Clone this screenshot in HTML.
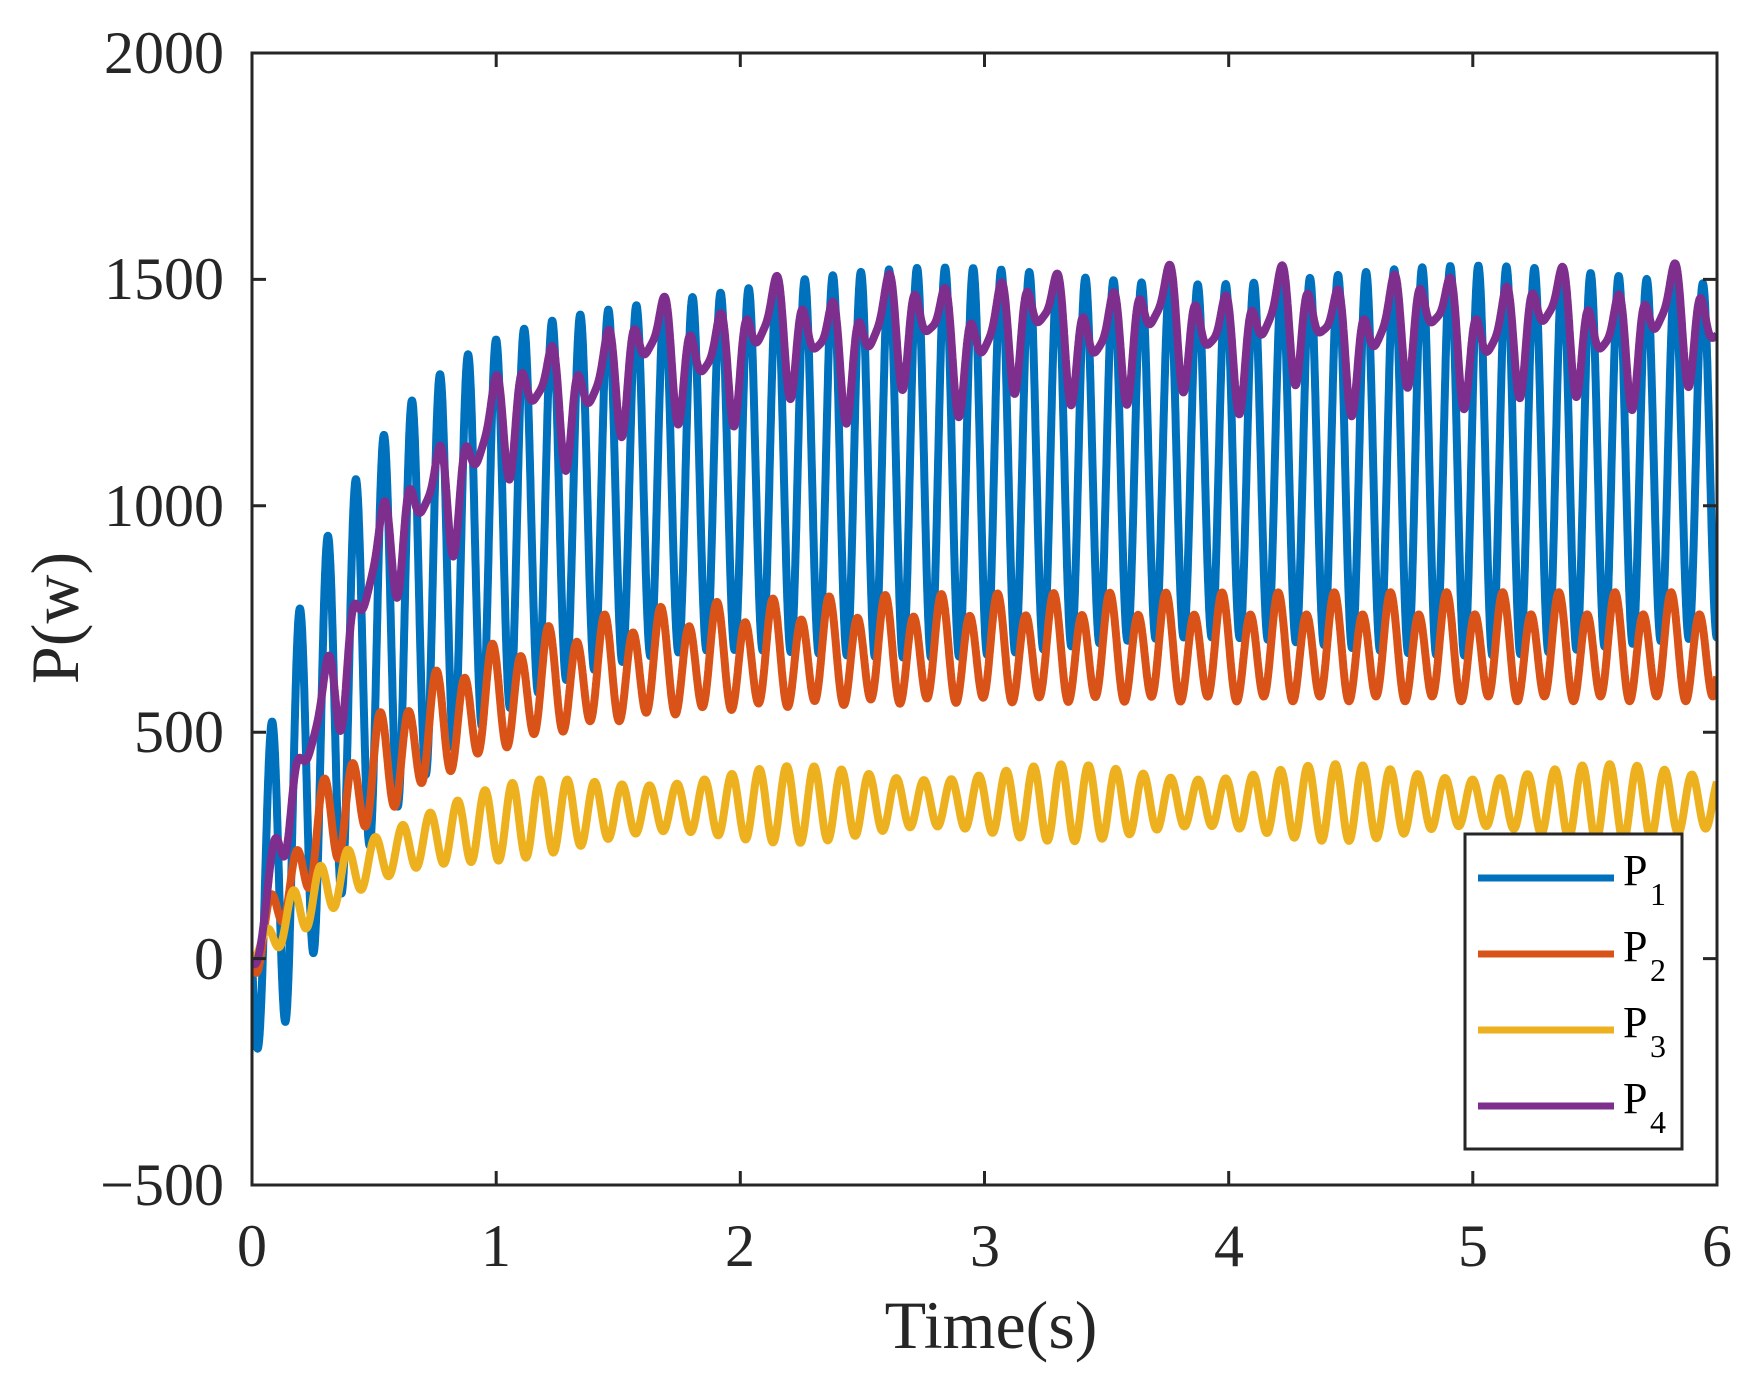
<!DOCTYPE html>
<html><head><meta charset="utf-8"><style>
html,body{margin:0;padding:0;background:#fff;}
svg text{font-family:"Liberation Serif",serif;fill:#262626;}
</style></head><body>
<svg id="s" width="1757" height="1383" viewBox="0 0 1757 1383" xmlns="http://www.w3.org/2000/svg">
<defs><clipPath id="c"><rect x="252" y="53" width="1465" height="1132"/></clipPath></defs>
<rect width="1757" height="1383" fill="#fff"/>
<g id="series" clip-path="url(#c)" fill="none" stroke-width="8" stroke-linejoin="round"></g>
<g stroke="#262626" stroke-width="3" fill="none">
<rect x="252" y="53" width="1465" height="1132"/>
<path d="M496.2,1185v-14M740.3,1185v-14M984.5,1185v-14M1228.7,1185v-14M1472.8,1185v-14M496.2,53v14M740.3,53v14M984.5,53v14M1228.7,53v14M1472.8,53v14"/>
<path d="M252,279.4h14M252,505.8h14M252,732.2h14M252,958.6h14M1717,279.4h-14M1717,505.8h-14M1717,732.2h-14M1717,958.6h-14"/>
</g>
<g font-size="60" text-anchor="middle">
<text x="252" y="1266">0</text><text x="496" y="1266">1</text><text x="740" y="1266">2</text><text x="985" y="1266">3</text><text x="1229" y="1266">4</text><text x="1473" y="1266">5</text><text x="1717" y="1266">6</text>
</g>
<g font-size="60" text-anchor="end">
<text x="224" y="73">2000</text><text x="224" y="299">1500</text><text x="224" y="526">1000</text><text x="224" y="752">500</text><text x="224" y="979">0</text><text x="224" y="1205">−500</text>
</g>
<text x="991" y="1348" font-size="68" text-anchor="middle">Time(s)</text>
<text transform="translate(78,618) rotate(-90)" font-size="68" text-anchor="middle">P(w)</text>
<rect x="1465" y="834" width="217" height="315" fill="#fff" stroke="#262626" stroke-width="3"/>
<g stroke-width="7">
<line x1="1478" y1="878" x2="1614" y2="878" stroke="#0072BD"/>
<line x1="1478" y1="954" x2="1614" y2="954" stroke="#D95319"/>
<line x1="1478" y1="1030" x2="1614" y2="1030" stroke="#EDB120"/>
<line x1="1478" y1="1106" x2="1614" y2="1106" stroke="#7E2F8E"/>
</g>
<g font-size="44">
<text x="1623" y="885" style="fill:#000">P</text><text x="1650" y="905" font-size="32" style="fill:#000">1</text>
<text x="1623" y="961" style="fill:#000">P</text><text x="1650" y="981" font-size="32" style="fill:#000">2</text>
<text x="1623" y="1037" style="fill:#000">P</text><text x="1650" y="1057" font-size="32" style="fill:#000">3</text>
<text x="1623" y="1113" style="fill:#000">P</text><text x="1650" y="1133" font-size="32" style="fill:#000">4</text>
</g>
</svg>
<script>
(function(){
var X=function(t){return 252+t*244.17;},Y=function(v){return 53+(2000-v)*0.45296;};
var P=Math.PI,f=8.7;
function e(t,tau){return 1-Math.exp(-t/tau);}
var fns=[
 ["#0072BD",function(t){var a=410*e(t,0.04)*(1+0.05*Math.sin(2*P*0.45*t));return 1100*e(t,0.5)+a*Math.sin(2*P*f*t-2.8)-150*Math.exp(-t/0.03)*Math.sin(P*t/0.04);}],
 ["#D95319",function(t){return 680*e(t,0.55)+105*e(t,0.15)*Math.sin(2*P*f*t-2.0)+25*Math.sin(2*P*4.35*t)-120*Math.exp(-t/0.05)*Math.sin(P*t/0.08);}],
 ["#EDB120",function(t){return 345*e(t,0.5)+85*e(t,0.15)*(0.8+0.2*Math.cos(2*P*0.9*t))*Math.sin(2*P*8.9*t-1.5);}],
 ["#7E2F8E",function(t){return 1390*e(t,0.55)+(80*Math.sin(2*P*f*t-2.6)+55*Math.sin(2*P*4.35*t+0.5)+30*Math.sin(2*P*13.05*t)+35*Math.sin(2*P*1.9*t+1))*e(t,0.15)-150*Math.exp(-t/0.05)*Math.sin(P*t/0.1);}]
];
var g=document.getElementById('series');
fns.forEach(function(s){var d='';for(var i=0;i<=6000;i++){var t=i*0.001;d+=(i?'L':'M')+X(t).toFixed(1)+','+Y(s[1](t)).toFixed(1);}
var p=document.createElementNS('http://www.w3.org/2000/svg','path');p.setAttribute('d',d);p.setAttribute('stroke',s[0]);g.appendChild(p);});
})();
</script>
</body></html>
